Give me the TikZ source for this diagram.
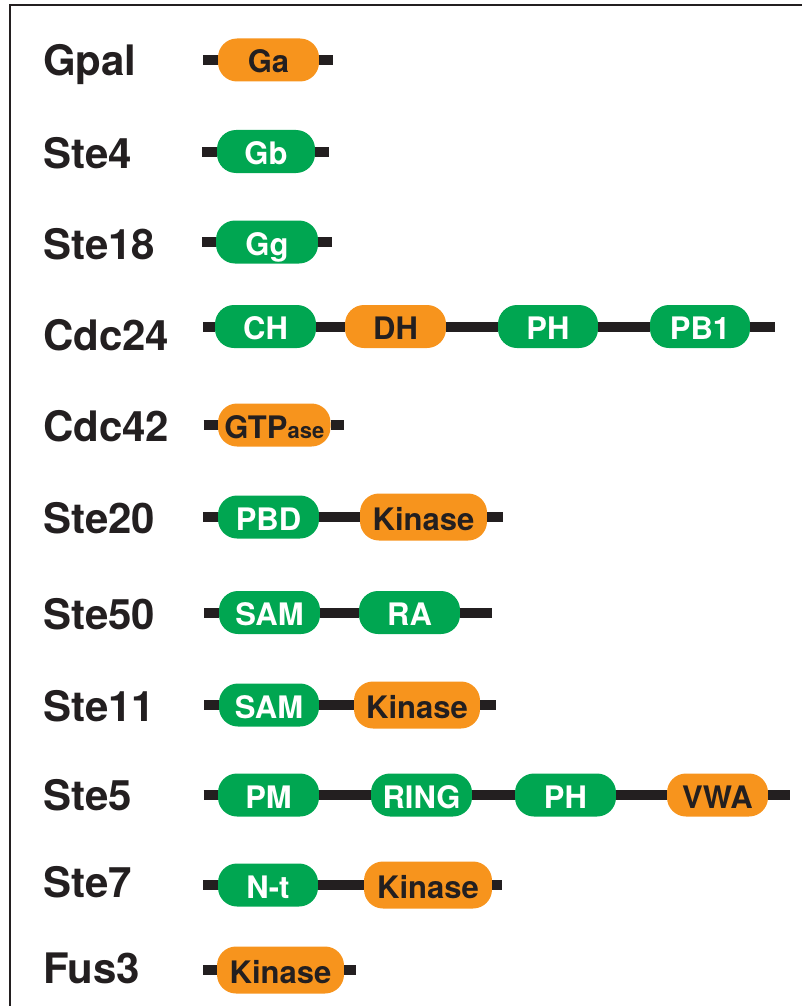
\documentclass[tikz,border=0pt]{standalone}
\usepackage{fontspec}
\setmainfont{TeX Gyre Heros}
\definecolor{domorange}{HTML}{F7941D}
\definecolor{domgreen}{HTML}{00A651}
\definecolor{ink}{HTML}{231F20}
% \dombox{name}{style}{left x}{right x}{y}{text}
\newcommand\dombox[6]{%
  \node[#2, minimum width={#4-#3}] (#1) at ({(#3+#4)/2},#5) {#6};}
\begin{document}
\begin{tikzpicture}[x=1pt,y=-1pt,
  protein/.style={font=\bfseries\fontsize{42}{42}\selectfont, text=ink,
    anchor=base west, inner sep=0pt},
  dombase/.style={rounded corners=19pt, minimum height=43pt, inner sep=0pt,
    text height=26pt, text depth=0pt, font=\bfseries\fontsize{31}{31}\selectfont},
  greendom/.style={dombase, fill=domgreen, text=white},
  orangedom/.style={dombase, fill=domorange, text=ink},
  kinasedom/.style={orangedom, minimum height=47pt},
  backbone/.style={draw=ink, line width=10pt},
  frameline/.style={draw=ink, line width=2.5pt},
]
\useasboundingbox (0,0) rectangle (802,1006);
% frame
\coordinate (fbl) at (10,1006);
\coordinate (ftl) at (10,5);
\coordinate (ftr) at (802,5);
\draw[frameline] (fbl) -- (ftl) -- (ftr);

% protein names
\node[protein] (nGpal)  at (43,76)  {Gpal};
\node[protein] (nSte4)  at (43,168) {Ste4};
\node[protein] (nSte18) at (43,259) {Ste18};
\node[protein] (nCdc24) at (43,350) {Cdc24};
\node[protein] (nCdc42) at (43,441) {Cdc42};
\node[protein] (nSte20) at (43,533) {Ste20};
\node[protein] (nSte50) at (43,629) {Ste50};
\node[protein] (nSte11) at (43,721) {Ste11};
\node[protein] (nSte5)  at (43,810) {Ste5};
\node[protein] (nSte7)  at (43,897) {Ste7};
\node[protein] (nFus3)  at (43,983) {Fus3};

% Gpal
\coordinate (gpalS) at (203,60); \coordinate (gpalE) at (333,60);
\dombox{ga}{orangedom}{218}{319}{60}{Ga}
\draw[backbone] (gpalS) -- (ga.west) (ga.east) -- (gpalE);

% Ste4
\coordinate (ste4S) at (202,151.5); \coordinate (ste4E) at (329,151.5);
\dombox{gb}{greendom}{217}{315}{151.5}{Gb}
\draw[backbone] (ste4S) -- (gb.west) (gb.east) -- (ste4E);

% Ste18
\coordinate (ste18S) at (202,242); \coordinate (ste18E) at (332,242);
\dombox{gg}{greendom}{216}{318}{242}{Gg}
\draw[backbone] (ste18S) -- (gg.west) (gg.east) -- (ste18E);

% Cdc24
\coordinate (cdc24S) at (203,326.5); \coordinate (cdc24E) at (775,326.5);
\dombox{ch}{greendom}{215}{316}{326.5}{CH}
\dombox{dh}{orangedom}{345}{446}{326.5}{DH}
\dombox{ph1}{greendom}{498}{598}{326.5}{PH}
\dombox{pb}{greendom}{650}{750}{326.5}{PB1}
\draw[backbone] (cdc24S) -- (ch.west) (ch.east) -- (dh.west)
  (dh.east) -- (ph1.west) (ph1.east) -- (pb.west) (pb.east) -- (cdc24E);

% Cdc42
\coordinate (cdc42S) at (203.5,425); \coordinate (cdc42E) at (344,425);
\dombox{gtp}{orangedom}{218}{330.5}{425}{GTP\fontsize{22}{22}\selectfont ase}
\draw[backbone] (cdc42S) -- (gtp.west) (gtp.east) -- (cdc42E);

% Ste20
\coordinate (ste20S) at (203,517); \coordinate (ste20E) at (503,517);
\dombox{pbd}{greendom}{218}{319}{517}{PBD}
\dombox{kin20}{kinasedom}{360}{487}{517}{Kinase}
\draw[backbone] (ste20S) -- (pbd.west) (pbd.east) -- (kin20.west)
  (kin20.east) -- (ste20E);

% Ste50
\coordinate (ste50S) at (204,612.5); \coordinate (ste50E) at (492,612.5);
\dombox{sam50}{greendom}{219}{320}{612.5}{SAM}
\dombox{ra}{greendom}{359}{460}{612.5}{RA}
\draw[backbone] (ste50S) -- (sam50.west) (sam50.east) -- (ra.west)
  (ra.east) -- (ste50E);

% Ste11
\coordinate (ste11S) at (204,705); \coordinate (ste11E) at (496,705);
\dombox{sam11}{greendom}{219}{319}{705}{SAM}
\dombox{kin11}{kinasedom}{354}{480}{705}{Kinase}
\draw[backbone] (ste11S) -- (sam11.west) (sam11.east) -- (kin11.west)
  (kin11.east) -- (ste11E);

% Ste5
\coordinate (ste5S) at (203.5,795); \coordinate (ste5E) at (790,795);
\dombox{pm}{greendom}{218}{319}{795}{PM}
\dombox{ring}{greendom}{371}{472}{795}{RING}
\dombox{ph2}{greendom}{515}{616}{795}{PH}
\dombox{vwa}{orangedom}{667}{768}{795}{VWA}
\draw[backbone] (ste5S) -- (pm.west) (pm.east) -- (ring.west)
  (ring.east) -- (ph2.west) (ph2.east) -- (vwa.west) (vwa.east) -- (ste5E);

% Ste7
\coordinate (ste7S) at (203,885); \coordinate (ste7E) at (502,885);
\dombox{nt}{greendom}{218}{318}{885}{N-t}
\dombox{kin7}{kinasedom}{364}{492}{885}{Kinase}
\draw[backbone] (ste7S) -- (nt.west) (nt.east) -- (kin7.west)
  (kin7.east) -- (ste7E);

% Fus3
\coordinate (fus3S) at (203,970); \coordinate (fus3E) at (356,970);
\dombox{kin3}{kinasedom}{217}{344}{970}{Kinase}
\draw[backbone] (fus3S) -- (kin3.west) (kin3.east) -- (fus3E);
\end{tikzpicture}
\end{document}
